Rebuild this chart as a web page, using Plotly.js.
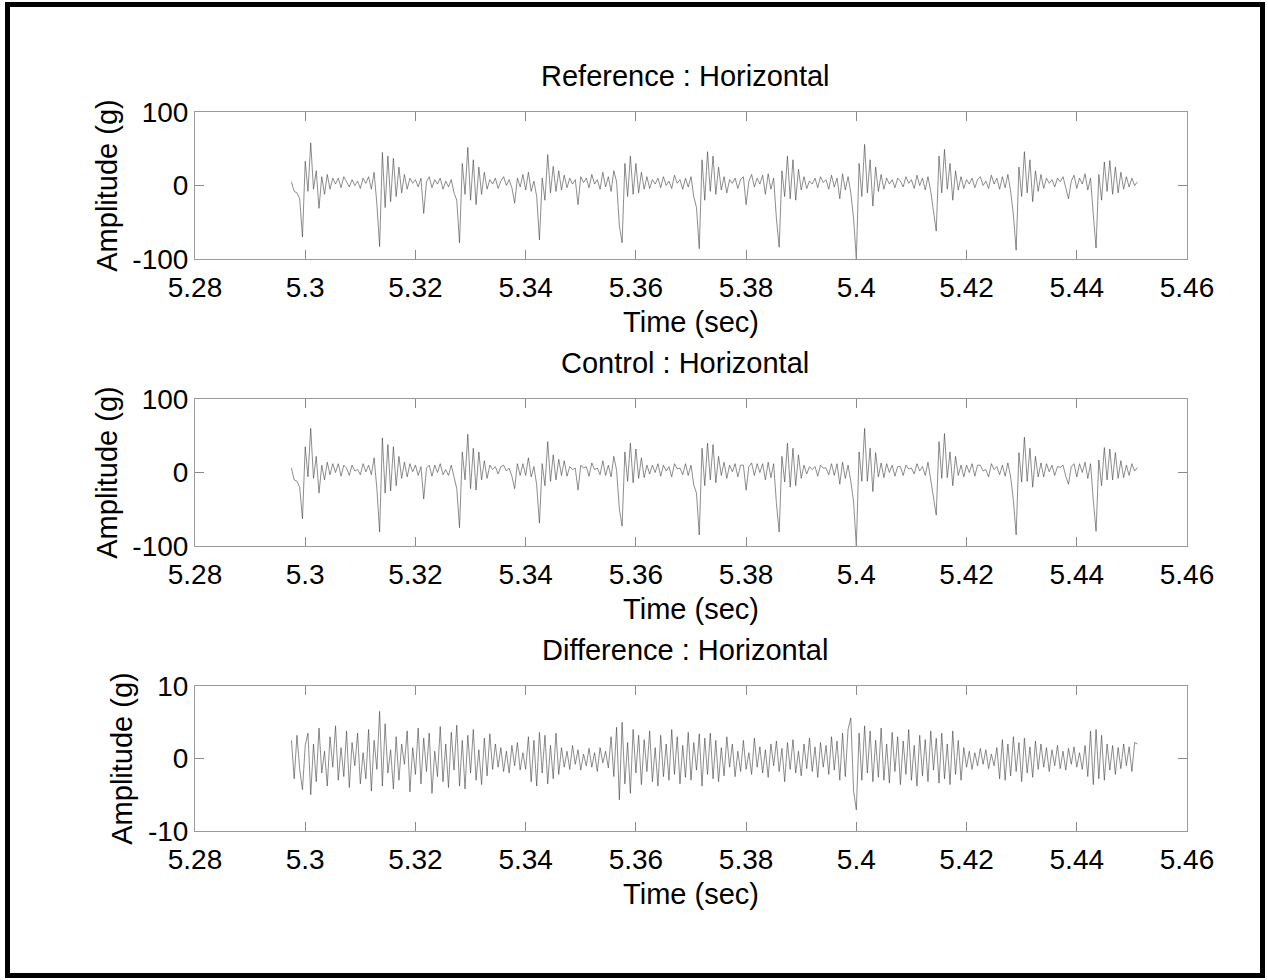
<!DOCTYPE html>
<html>
<head>
<meta charset="utf-8">
<script src="https://cdn.plot.ly/plotly-3.0.1.min.js"></script>
<style>
  html, body { margin: 0; padding: 0; background: #fff; }
  #chart { position: absolute; left: 0; top: 0; width: 1268px; height: 980px; }
  #frame { position: absolute; left: 5px; top: 2px; width: 1250px; height: 966px; border: 5px solid #000; pointer-events: none; }
</style>
</head>
<body>
<div id="chart"></div>
<div id="frame"></div>
<script>
// Sampling of the recorded signals
const t0 = 5.2975;
const dt = 0.0005;

// Subplot titles and axis labels
const panelTitles = ["Reference : Horizontal", "Control : Horizontal", "Difference : Horizontal"];
const xLabel = "Time (sec)";
const yLabel = "Amplitude (g)";
const xTickVals = [5.28, 5.30, 5.32, 5.34, 5.36, 5.38, 5.40, 5.42, 5.44, 5.46];
const xTickText = ["5.28", "5.3", "5.32", "5.34", "5.36", "5.38", "5.4", "5.42", "5.44", "5.46"];
const yTickValsBig = [-100, 0, 100];
const yTickTextBig = ["-100", "0", "100"];
const yTickValsSmall = [-10, 0, 10];
const yTickTextSmall = ["-10", "0", "10"];

// Reference signal (g)
const reference = [
  5, -8, -10, -18,
  -70, 33, -8, 58, -5, 20, -31, 12, -12, 15, -5, 10,
  2, 10, -3, 12, 5, -2, 8, 0, 6, -4, 10, 3, 12, -5, 18, -25,
  -83, 45, -30, 40, -22, 37, -15, 25, -10, 15, -5, 10,
  3, 8, -2, 10, -38, 5, 12, -3, 8, 2, 10, -5, 6, -2, 8, -10, -20,
  -78, 30, -12, 52, -20, 35, -26, 25, -12, 18, -5, 8,
  2, 10, -4, 6, 12, 0, 8, -3, -24, 10, -2, 15, -6, 18, -8, 6, -15,
  -74, 10, -20, 42, -10, 26, -8, 20, -6, 14, -3, 10,
  2, 8, -26, 12, 4, 10, -3, 15, 2, 8, -5, 18, -2, 12, -8, 20, 5, -55,
  -78, 30, -15, 40, -12, 30, -10, 18, -5, 12, -4, 8,
  2, 10, -3, 12, 0, 6, -4, 14, 3, 8, -5, 10, -2, 12, -15, -30,
  -86, 35, -20, 46, -8, 40, -12, 25, -6, 12, -10, 8,
  3, 10, -4, 8, 12, -26, 6, 15, -2, 10, 2, 14, -12, 16, -5, 10, -45,
  -84, 20, -15, 40, -18, 35, -20, 22, -6, 12, -4, 6,
  2, 10, -3, 12, 4, 8, -5, 14, -2, 10, -18, 16, -6, 12, -10, -45,
  -100, 30, -15, 56, -10, 35, -28, 25, -8, 15, -5, 10,
  2, 8, -3, 10, 6, -2, 12, 3, 8, -4, 14, 0, 10, -6, 12, -8, -35,
  -62, 40, -10, 49, -5, 30, -20, 20, -6, 12, -4, 8,
  2, 10, -3, 8, 12, 0, 6, -4, 14, 2, 10, -5, 12, -3, 15, -8, -40,
  -88, 25, -15, 46, -10, 35, -22, 20, -8, 15, -4, 10,
  3, 8, -2, 10, 5, 12, -3, -18, 6, 14, -4, 10, 2, 16, -6, 10, -40,
  -85, 15, -20, 32, -8, 34, -12, 25, -10, 18, -5, 12, -2, 10, 0, 5
];

// Control signal (g)
const control = [
  6, -10, -12, -20,
  -63, 35, -6, 60, -8, 22, -28, 10, -10, 14, -3, 12,
  0, 12, -5, 10, 6, -4, 10, 2, 4, -3, 12, 1, 10, -3, 20, -22,
  -81, 47, -28, 38, -25, 35, -18, 22, -8, 14, -6, 12,
  1, 10, -4, 8, -36, 6, 10, -5, 10, 0, 12, -3, 4, -4, 10, -8, -22,
  -75, 28, -10, 52, -22, 33, -24, 28, -10, 16, -8, 10,
  4, 8, -2, 8, 10, 2, 6, -5, -22, 12, -4, 12, -4, 20, -6, 8, -17,
  -69, 12, -18, 42, -12, 24, -10, 18, -4, 16, -5, 8,
  4, 6, -24, 10, 6, 8, -5, 13, 4, 6, -3, 16, -4, 10, -6, 22, 3, -50,
  -73, 28, -12, 40, -14, 32, -8, 20, -7, 10, -2, 10,
  0, 12, -5, 10, 2, 8, -6, 12, 5, 6, -3, 12, -4, 10, -17, -28,
  -85, 33, -18, 40, -10, 38, -14, 22, -4, 14, -8, 10,
  1, 12, -6, 10, 10, -24, 8, 13, -4, 12, 0, 12, -10, 14, -7, 12, -42,
  -81, 22, -13, 40, -20, 33, -18, 24, -8, 10, -2, 8,
  4, 8, -5, 10, 6, 6, -3, 12, -4, 12, -16, 14, -8, 10, -12, -40,
  -100, 28, -12, 60, -12, 33, -26, 27, -6, 13, -7, 12,
  0, 10, -5, 8, 8, -4, 10, 5, 6, -2, 12, 2, 8, -4, 14, -10, -32,
  -58, 42, -8, 53, -7, 28, -18, 22, -4, 10, -6, 10,
  0, 12, -5, 10, 10, 2, 4, -6, 12, 4, 8, -3, 10, -5, 13, -6, -38,
  -85, 27, -13, 48, -12, 33, -20, 22, -6, 13, -6, 12,
  1, 10, -4, 8, 7, 10, -5, -16, 8, 12, -6, 12, 0, 14, -8, 12, -38,
  -80, 17, -18, 34, -10, 32, -10, 27, -8, 16, -7, 10, -4, 12, 2, 7
];

// Difference signal (g)
const difference = [
  2.5, -2.8, 3.2, -1.5, -4.3, 1.8, 3.5, -5.0, 2.0, -3.2, 4.2, -2.0, 1.0, -3.8, 3.0, -1.2, 4.5, -3.0, 1.5, -2.5,
  3.8, -4.0, 2.2, -1.0, 3.5, -3.5, 0.8, -2.8, 4.0, -4.5, 2.5, -1.5, 6.5, -3.8, 4.8, -2.0, 1.2, -4.2, 3.0, -3.0,
  2.0, -0.8, 3.8, -4.6, 1.5, -2.2, 4.2, -3.5, 2.8, -1.8, 3.5, -4.8, 1.0, -2.5, 4.4, -3.2, 2.0, -4.0, 3.6, -1.6,
  4.6, -3.8, 2.5, -4.2, 3.2, -2.0, 4.0, -3.0, 1.2, -3.6, 2.8, -2.4, 3.4, -1.5, 2.0, -1.2, 1.5, -1.8, 1.0, -2.0,
  1.8, -1.0, 2.2, -1.6, 0.8, -1.5, 3.0, -3.2, 2.5, -3.8, 3.6, -2.0, 3.2, -3.5, 1.8, -2.8, 3.5, -2.2, 1.5, -1.2,
  1.0, -1.5, 1.8, -0.8, 1.2, -1.6, 0.6, -1.0, 1.4, -1.2, 0.8, -1.8, 1.5, -0.6, 1.0, -1.3, 3.0, -2.5, 4.3, -5.7,
  5.0, -3.5, 2.2, -4.8, 4.0, -2.0, 3.2, -3.6, 2.6, -1.8, 3.8, -3.2, 1.5, -3.8, 3.2, -2.5, 2.0, -3.0, 4.0, -2.2,
  3.0, -3.5, 1.8, -2.6, 3.6, -3.0, 2.2, -1.6, 3.4, -3.8, 2.8, -2.2, 3.5, -2.8, 2.5, -3.2, 1.5, -2.4, 3.0, -1.2,
  2.0, -2.5, 1.0, -1.8, 2.5, -1.5, 0.8, -2.2, 2.8, -1.2, 1.6, -2.0, 1.2, -2.6, 2.0, -1.0, 2.4, -1.8, 1.4, -3.2,
  2.2, -1.5, 2.6, -2.0, 1.0, -2.4, 2.0, -1.4, 2.8, -1.8, 1.6, -2.6, 2.2, -1.2, 1.8, -2.2, 3.0, -1.6, 2.4, -3.0,
  3.5, -2.5, 4.0, 5.6, -4.5, -7.1, 3.5, -3.0, 4.5, -2.0, 3.8, -3.2, 2.5, -2.6, 4.2, -3.0, 2.0, -3.4, 3.6, -1.8,
  3.0, -3.6, 2.4, -2.2, 4.0, -3.0, 1.8, -3.8, 3.2, -2.4, 2.6, -3.2, 3.8, -1.6, 2.8, -3.4, 3.5, -2.8, 2.0, -3.6,
  3.8, -2.2, 2.5, -3.0, 1.5, -1.2, 1.0, -1.5, 0.8, -1.0, 1.4, -0.8, 1.2, -1.4, 0.6, -1.0, 1.5, -2.8, 2.6, -3.0,
  2.0, -2.4, 3.0, -1.8, 2.2, -3.2, 2.8, -2.0, 1.6, -2.6, 2.4, -1.5, 2.0, -1.2, 1.5, -1.8, 1.2, -1.0, 1.8, -1.4,
  1.0, -1.6, 1.4, -0.8, 1.6, -1.2, 0.8, -1.5, 1.8, -2.5, 3.8, -3.6, 4.0, -2.8, 3.2, -3.0, 2.0, -1.6, 1.8, -2.2,
  1.5, -1.4, 2.0, -1.0, 1.6, -1.8, 2.2, 2.0
];

function timesFor(arr) {
  return arr.map((_, i) => +(t0 + i * dt).toFixed(5));
}

const FONT = "Liberation Sans, Arial, Helvetica, sans-serif";
const FS = 29;
const TFS = 28;
const lineStyle = { color: "#404040", width: 0.6 };

const traces = [
  { x: timesFor(reference), y: reference, type: "scatter", mode: "lines", line: lineStyle, xaxis: "x", yaxis: "y", name: panelTitles[0], hoverinfo: "x+y" },
  { x: timesFor(control), y: control, type: "scatter", mode: "lines", line: lineStyle, xaxis: "x2", yaxis: "y2", name: panelTitles[1], hoverinfo: "x+y" },
  { x: timesFor(difference), y: difference, type: "scatter", mode: "lines", line: lineStyle, xaxis: "x3", yaxis: "y3", name: panelTitles[2], hoverinfo: "x+y" }
];

function xAxis(anchor) {
  return {
    anchor: anchor,
    domain: [0, 1],
    range: [5.28, 5.46],
    tickmode: "array",
    tickvals: xTickVals,
    ticktext: xTickText,
    ticks: "inside",
    ticklen: 9,
    tickcolor: "#8a8a8a",
    tickwidth: 1,
    ticklabelstandoff: 3,
    showline: true,
    linecolor: "#9a9a9a",
    linewidth: 1,
    mirror: "ticks",
    showgrid: false,
    zeroline: false,
    tickfont: { family: FONT, size: TFS, color: "#000" },
    title: { text: xLabel, font: { family: FONT, size: FS, color: "#000" }, standoff: 10 }
  };
}
function yAxis(anchor, domain, range, tickvals, ticktext) {
  return {
    anchor: anchor,
    domain: domain,
    range: range,
    tickmode: "array",
    tickvals: tickvals,
    ticktext: ticktext,
    ticks: "inside",
    ticklen: 9,
    tickcolor: "#8a8a8a",
    tickwidth: 1,
    showline: true,
    linecolor: "#9a9a9a",
    linewidth: 1,
    mirror: "ticks",
    showgrid: false,
    zeroline: false,
    tickfont: { family: FONT, size: TFS, color: "#000" },
    title: { text: yLabel, font: { family: FONT, size: FS, color: "#000" }, standoff: 6 }
  };
}

const layout = {
  width: 1268,
  height: 980,
  margin: { l: 195, r: 81, t: 112, b: 149 },
  paper_bgcolor: "#ffffff",
  plot_bgcolor: "#ffffff",
  showlegend: false,
  font: { family: FONT, color: "#000" },
  xaxis: xAxis("y"),
  yaxis: yAxis("x", [0.7955, 1], [-100, 100], yTickValsBig, yTickTextBig),
  xaxis2: xAxis("y2"),
  yaxis2: yAxis("x2", [0.3964, 0.6008], [-100, 100], yTickValsBig, yTickTextBig),
  xaxis3: xAxis("y3"),
  yaxis3: yAxis("x3", [0, 0.2017], [-10, 10], yTickValsSmall, yTickTextSmall),
  annotations: [
    { text: panelTitles[0], xref: "paper", yref: "paper", x: 0.494, y: 1.05, xanchor: "center", yanchor: "middle", showarrow: false, font: { family: FONT, size: FS, color: "#000" } },
    { text: panelTitles[1], xref: "paper", yref: "paper", x: 0.494, y: 0.6508, xanchor: "center", yanchor: "middle", showarrow: false, font: { family: FONT, size: FS, color: "#000" } },
    { text: panelTitles[2], xref: "paper", yref: "paper", x: 0.494, y: 0.2517, xanchor: "center", yanchor: "middle", showarrow: false, font: { family: FONT, size: FS, color: "#000" } }
  ]
};

Plotly.newPlot("chart", traces, layout, { staticPlot: true, displayModeBar: false });
</script>
</body>
</html>
